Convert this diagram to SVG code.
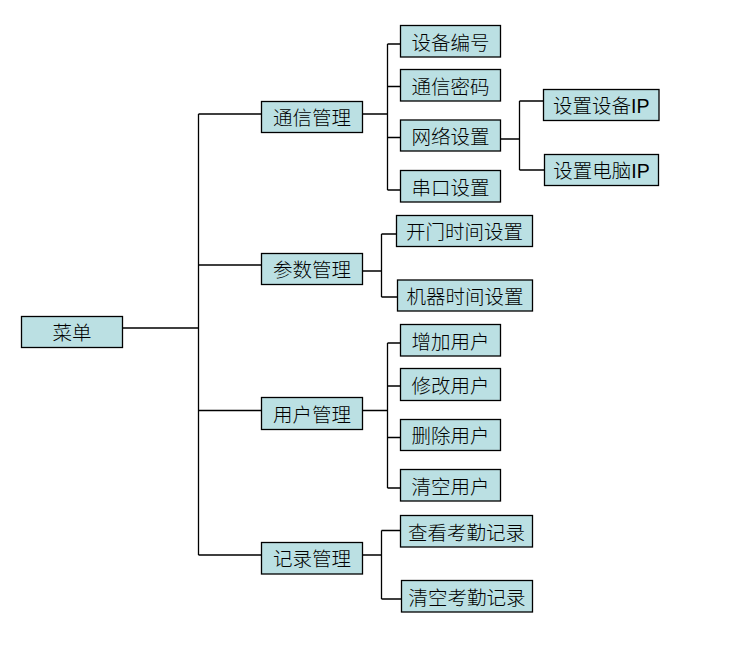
<svg xmlns="http://www.w3.org/2000/svg" width="729" height="645" viewBox="0 0 729 645">
<style>
.n rect{fill:#BBE0E3;stroke:#000;stroke-width:1.3}
.n text{font-family:"Liberation Sans","Noto Sans CJK SC",sans-serif;font-size:19.5px;font-weight:300;fill:#000;text-anchor:middle}
.c path{fill:none;stroke:#000;stroke-width:1.3}
</style>
<rect width="729" height="645" fill="#fff"/>
<g class="c" id="connectors">
<path d="M122.5 328H198.5M198.5 114V555M198.5 114H261.5M198.5 265H261.5M198.5 410.5H261.5M198.5 555H261.5"/>
<path d="M362.5 114H387.5M387.5 44V190M387.5 44H400.5M387.5 86.5H400.5M387.5 137.5H400.5M387.5 190H400.5"/>
<path d="M500.5 139H519.5M519.5 101V170M519.5 101H543.5M519.5 170H544.5"/>
<path d="M362.5 271H381.5M381.5 234V297M381.5 234H396.5M381.5 297H397.5"/>
<path d="M362.5 410.5H387.5M387.5 343V488M387.5 343H400.5M387.5 386H400.5M387.5 437.5H400.5M387.5 488H400.5"/>
<path d="M362.5 555H381.5M381.5 530.5V599M381.5 530.5H400.5M381.5 599H401.5"/>
</g>
<g class="n" id="menu"><rect x="21.5" y="316.5" width="101" height="31"/><text x="72" y="340">菜单</text></g>
<g class="n" id="comm"><rect x="261.5" y="101.5" width="101" height="31"/><text x="312" y="125">通信管理</text></g>
<g class="n" id="param"><rect x="261.5" y="253.5" width="101" height="31"/><text x="312" y="277">参数管理</text></g>
<g class="n" id="user"><rect x="261.5" y="397.5" width="101" height="32"/><text x="312" y="421.5">用户管理</text></g>
<g class="n" id="record"><rect x="261.5" y="542.5" width="101" height="31.5"/><text x="312" y="566">记录管理</text></g>
<g class="n" id="devno"><rect x="400.5" y="25.5" width="100" height="31.5"/><text x="450.5" y="49.5">设备编号</text></g>
<g class="n" id="commpwd"><rect x="400.5" y="69.5" width="100" height="31.5"/><text x="450.5" y="93.5">通信密码</text></g>
<g class="n" id="net"><rect x="400.5" y="120" width="100" height="31"/><text x="450.5" y="143.5">网络设置</text></g>
<g class="n" id="serial"><rect x="400.5" y="170.5" width="100" height="31.5"/><text x="450.5" y="194.5">串口设置</text></g>
<g class="n" id="devip"><rect x="543.5" y="89.5" width="115.5" height="31"/><text x="601.2" y="113">设置设备IP</text></g>
<g class="n" id="pcip"><rect x="544.5" y="154.5" width="114" height="31"/><text x="601.5" y="178">设置电脑IP</text></g>
<g class="n" id="doortime"><rect x="396.5" y="215.5" width="136" height="31"/><text x="464.5" y="239">开门时间设置</text></g>
<g class="n" id="machtime"><rect x="397.5" y="280" width="135" height="31"/><text x="465" y="303.5">机器时间设置</text></g>
<g class="n" id="adduser"><rect x="400.5" y="324.5" width="100" height="31.5"/><text x="450.5" y="348.5">增加用户</text></g>
<g class="n" id="moduser"><rect x="400.5" y="368.5" width="100" height="32"/><text x="450.5" y="392.5">修改用户</text></g>
<g class="n" id="deluser"><rect x="400.5" y="419.5" width="100" height="31"/><text x="450.5" y="443">删除用户</text></g>
<g class="n" id="clruser"><rect x="400.5" y="469.5" width="100" height="31.5"/><text x="450.5" y="493.5">清空用户</text></g>
<g class="n" id="viewrec"><rect x="400.5" y="515.5" width="132" height="31.5"/><text x="466.5" y="539.5">查看考勤记录</text></g>
<g class="n" id="clrrec"><rect x="401.5" y="580.5" width="131" height="31.5"/><text x="467" y="604.5">清空考勤记录</text></g>
</svg>
